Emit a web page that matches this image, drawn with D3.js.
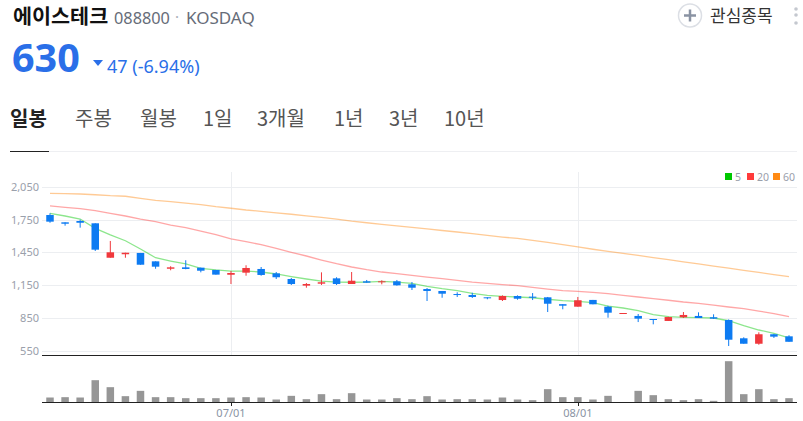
<!DOCTYPE html>
<html lang="ko">
<head>
<meta charset="utf-8">
<title>에이스테크</title>
<script src="https://cdn.jsdelivr.net/npm/d3@7"></script>
<style>
  html, body { margin: 0; padding: 0; background: #fff; overflow: hidden; }
  svg { display: block; }
  text { font-family: "Noto Sans CJK KR", "Noto Sans", sans-serif; }
  .latin { font-family: "Noto Sans", sans-serif; }
  .axis text { font-family: "Noto Sans", sans-serif; font-size: 11px; fill: #9aa0ab; }
</style>
</head>
<body>
<div id="chart"></div>
<script>
// daily candles (oldest first)
var opens = [1793,1726,1738,1717,1401,1433,1445,1368,1300,1313,1310,1289,1245,1264,1298,1258,1206,1145,1163,1212,1160,1185,1176,1185,1157,1114,1096,1068,1059,1038,1013,1050,1044,1038,975,952,1014,952,888,867,839,821,855,867,855,830,662,612,699,680];
var closes = [1732,1713,1722,1475,1451,1447,1337,1319,1313,1298,1282,1246,1261,1307,1243,1222,1160,1160,1176,1160,1190,1172,1185,1148,1126,1096,1071,1059,1041,1029,1050,1025,1034,979,961,1011,974,897,894,842,833,857,876,848,842,649,612,699,677,630];
var highs = [1809,1726,1750,1717,1555,1447,1445,1368,1323,1378,1310,1289,1279,1332,1316,1270,1215,1169,1267,1222,1270,1197,1194,1197,1178,1123,1096,1084,1080,1038,1056,1056,1077,1041,975,1041,1014,961,894,885,839,860,903,900,882,835,671,717,702,690];
var lows = [1722,1695,1677,1463,1401,1401,1337,1300,1286,1295,1267,1246,1160,1236,1236,1206,1151,1126,1151,1151,1160,1172,1157,1145,1105,1004,1034,1041,1032,1020,1004,1016,1013,903,928,952,974,851,888,811,790,821,848,848,839,591,612,603,665,630];

// moving averages
var ma5 = [1809,1784,1756,1671,1610,1557,1481,1401,1371,1344,1304,1289,1279,1279,1270,1252,1228,1206,1187,1178,1176,1178,1185,1178,1166,1139,1117,1099,1075,1056,1047,1041,1034,1020,1007,1001,989,958,940,915,879,860,854,851,848,823,778,738,708,665];
var ma20 = [1876,1864,1851,1833,1809,1784,1756,1732,1701,1677,1646,1612,1575,1548,1521,1488,1451,1417,1380,1346,1316,1291,1270,1255,1240,1224,1209,1194,1178,1166,1154,1145,1130,1114,1099,1093,1084,1071,1056,1041,1025,1011,995,983,967,949,934,912,888,860];
var ma60 = [1992,1989,1986,1979,1970,1965,1946,1928,1915,1903,1888,1869,1855,1839,1827,1813,1800,1786,1771,1756,1736,1722,1708,1694,1679,1665,1651,1637,1622,1607,1591,1578,1561,1541,1521,1500,1479,1460,1441,1422,1402,1383,1363,1344,1325,1305,1286,1267,1247,1227];

// volume, in thousand shares (scale estimated)
var volumes = [75,80,75,335,230,95,175,80,80,65,65,65,75,80,75,45,100,50,125,50,140,45,45,65,50,95,45,50,50,45,75,45,35,200,80,80,45,100,0,175,110,50,35,50,25,620,125,200,50,65];

var yTicks = [550,850,1150,1450,1750,2050];
var dateTicks = [{ i: 12, label: "07/01" }, { i: 35, label: "08/01" }];
var tabs = ["일봉","주봉","월봉","1일","3개월","1년","3년","10년"];
var tabX = [10,75,140,203,257,334,389,444];
var maSeries = [
  { name: "5", color: "#00c800", values: ma5 },
  { name: "20", color: "#ff3b3b", values: ma20 },
  { name: "60", color: "#ff8a14", values: ma60 }
];
var legendX = [725,747,773];

var width = 803, height = 421;
var left = 42, right = 797;
var blue = "#0d7bf2", red = "#f0383c";

var svg = d3.select("#chart").append("svg").attr("width", width).attr("height", height);

// ---- header
svg.append("text").attr("x", 13).attr("y", 24).attr("font-size", 20.7).attr("font-weight", 700).attr("fill", "#111").text("에이스테크");
svg.append("text").attr("class", "latin").attr("x", 114).attr("y", 24).attr("font-size", 16.3).attr("fill", "#666c78").text("088800");
svg.append("text").attr("class", "latin").attr("x", 175).attr("y", 22).attr("font-size", 15).attr("fill", "#a8adb6").text("·");
svg.append("text").attr("class", "latin").attr("x", 186).attr("y", 24).attr("font-size", 17).attr("fill", "#666c78").text("KOSDAQ");

svg.append("text").attr("class", "latin").attr("x", 12).attr("y", 72).attr("font-size", 39.5).attr("font-weight", 700).attr("fill", "#2a6fe8").text("630");
svg.append("path").attr("d", "M93,60 L103,60 L98,66 Z").attr("fill", "#2a6fe8");
svg.append("text").attr("class", "latin").attr("x", 107).attr("y", 73).attr("font-size", 18).attr("fill", "#2a6fe8").text("47 (-6.94%)");

// watchlist button
svg.append("circle").attr("cx", 690).attr("cy", 15.5).attr("r", 11.5).attr("fill", "#fff").attr("stroke", "#dcdfe5").attr("stroke-width", 1.5);
svg.append("path").attr("d", "M684,15.5 H696 M690,9.5 V21.5").attr("stroke", "#8a93a3").attr("stroke-width", 2.5);
svg.append("text").attr("x", 710).attr("y", 21.5).attr("font-size", 17).attr("fill", "#333").text("관심종목");
svg.selectAll(".dot").data([9, 15, 23]).enter().append("circle").attr("class", "dot")
  .attr("cx", 796).attr("cy", function (d) { return d; }).attr("r", 1.8).attr("fill", "#c4c8cf");

// ---- tabs
svg.selectAll(".tab").data(tabs).enter().append("text").attr("class", "tab")
  .attr("x", function (d, i) { return tabX[i]; })
  .attr("y", 126)
  .attr("font-size", 20)
  .attr("font-weight", function (d, i) { return i === 0 ? 700 : 400; })
  .attr("fill", function (d, i) { return i === 0 ? "#222" : "#555"; })
  .text(function (d) { return d; });
svg.append("line").attr("x1", 49).attr("x2", 797).attr("y1", 151.5).attr("y2", 151.5).attr("stroke", "#eeeff2");
svg.append("line").attr("x1", 10).attr("x2", 49).attr("y1", 151.5).attr("y2", 151.5).attr("stroke", "#222");

// ---- scales
var x = d3.scalePoint().domain(d3.range(closes.length)).range([50, 789]);
var y = d3.scaleLinear().domain([550, 2050]).range([350.5, 187]);
var yVol = d3.scaleLinear().domain([0, 620]).range([402.5, 361.2]);

// ---- price grid and axis
var gridY = svg.append("g").attr("class", "axis")
  .attr("transform", "translate(" + left + ",0)")
  .call(d3.axisLeft(y).tickValues(yTicks).tickSize(0).tickPadding(3).tickFormat(d3.format(",")));
gridY.select(".domain").remove();
svg.selectAll(".grid-h").data(yTicks).enter().append("line").attr("class", "grid-h")
  .attr("x1", left).attr("x2", right)
  .attr("y1", function (d) { return Math.round(y(d)) + 0.5; })
  .attr("y2", function (d) { return Math.round(y(d)) + 0.5; })
  .attr("stroke", "#eceef1");
svg.selectAll(".grid-v").data(dateTicks).enter().append("line").attr("class", "grid-v")
  .attr("x1", function (d) { return Math.round(x(d.i)) + 0.5; })
  .attr("x2", function (d) { return Math.round(x(d.i)) + 0.5; })
  .attr("y1", 172).attr("y2", 355)
  .attr("stroke", "#eceef1");

// ---- moving averages
var line = d3.line().x(function (d, i) { return x(i); }).y(function (d) { return y(d); });
svg.selectAll(".ma").data(maSeries).enter().append("path").attr("class", "ma")
  .attr("d", function (d) { return line(d.values); })
  .attr("fill", "none")
  .attr("stroke", function (d) { return d.color; })
  .attr("stroke-opacity", 0.45)
  .attr("stroke-width", 1.3);

// ---- candles
var candle = svg.selectAll(".candle").data(closes).enter().append("g").attr("class", "candle");
function candleColor(d, i) { return d >= opens[i] ? red : blue; }
candle.append("line")
  .attr("x1", function (d, i) { return x(i); })
  .attr("x2", function (d, i) { return x(i); })
  .attr("y1", function (d, i) { return y(highs[i]); })
  .attr("y2", function (d, i) { return y(lows[i]); })
  .attr("stroke", candleColor);
candle.append("rect")
  .attr("x", function (d, i) { return x(i) - 3.75; })
  .attr("width", 7.5)
  .attr("y", function (d, i) { return y(Math.max(d, opens[i])); })
  .attr("height", function (d, i) { return Math.max(1, Math.abs(y(d) - y(opens[i]))); })
  .attr("fill", candleColor);

// ---- volume bars
svg.selectAll(".vol").data(volumes).enter().append("rect").attr("class", "vol")
  .attr("x", function (d, i) { return x(i) - 3.75; })
  .attr("width", 7.5)
  .attr("y", function (d) { return yVol(d); })
  .attr("height", function (d) { return yVol(0) - yVol(d); })
  .attr("fill", "#969696");

// ---- frame lines and date axis
svg.append("line").attr("x1", left).attr("x2", right).attr("y1", 355.5).attr("y2", 355.5).attr("stroke", "#222");
svg.append("line").attr("x1", left).attr("x2", right).attr("y1", 402.5).attr("y2", 402.5).attr("stroke", "#222");
svg.selectAll(".tick-x").data(dateTicks).enter().append("line").attr("class", "tick-x")
  .attr("x1", function (d) { return Math.round(x(d.i)) + 0.5; })
  .attr("x2", function (d) { return Math.round(x(d.i)) + 0.5; })
  .attr("y1", 402).attr("y2", 406)
  .attr("stroke", "#222");
svg.selectAll(".label-x").data(dateTicks).enter().append("text").attr("class", "label-x latin")
  .attr("x", function (d) { return x(d.i); })
  .attr("y", 417)
  .attr("text-anchor", "middle")
  .attr("font-size", 11)
  .attr("fill", "#8a93a3")
  .text(function (d) { return d.label; });

// ---- legend
var legend = svg.selectAll(".legend").data(maSeries).enter().append("g").attr("class", "legend")
  .attr("transform", function (d, i) { return "translate(" + legendX[i] + ",173)"; });
legend.append("rect").attr("width", 7).attr("height", 7).attr("fill", function (d) { return d.color; });
legend.append("text").attr("class", "latin").attr("x", 10).attr("y", 7.5).attr("font-size", 10.5).attr("fill", "#9aa0ab")
  .text(function (d) { return d.name; });
</script>
</body>
</html>
